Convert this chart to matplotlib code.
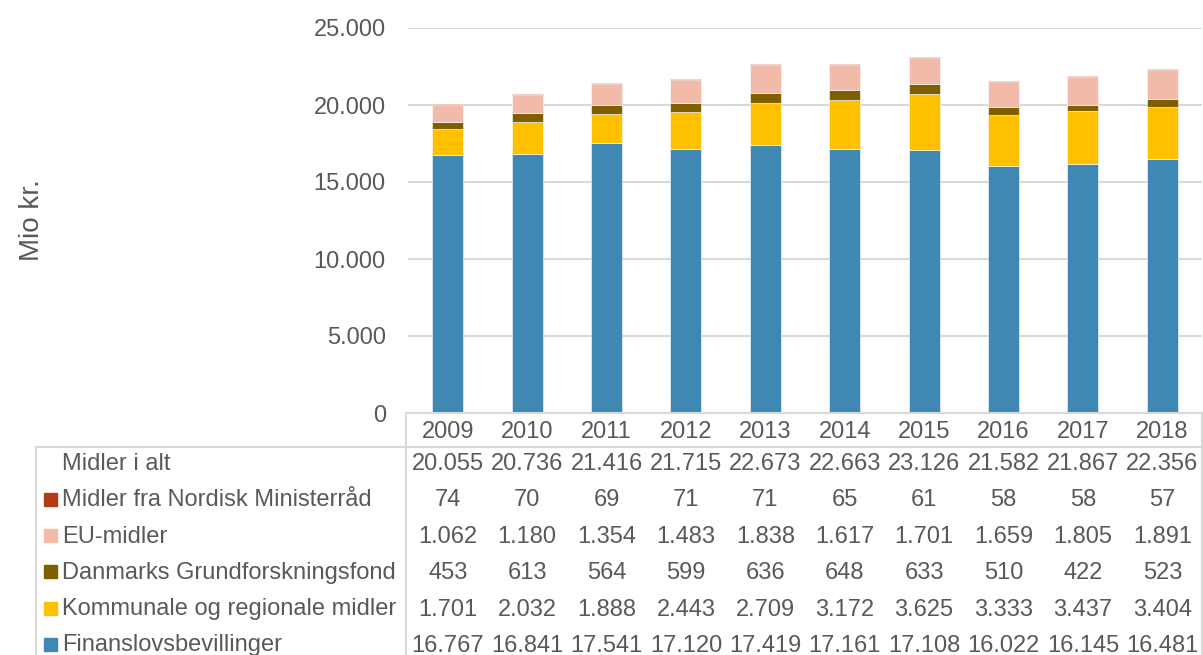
import matplotlib
matplotlib.use("Agg")
import matplotlib.pyplot as plt
from matplotlib.lines import Line2D
from matplotlib.patches import Rectangle
from matplotlib.ticker import FuncFormatter
from matplotlib.transforms import blended_transform_factory

plt.rcParams['font.family'] = ['Liberation Sans', 'DejaVu Sans']

years = ["2009", "2010", "2011", "2012", "2013", "2014", "2015", "2016", "2017", "2018"]
finanslov = [16767, 16841, 17541, 17120, 17419, 17161, 17108, 16022, 16145, 16481]
kommunale = [1701, 2032, 1888, 2443, 2709, 3172, 3625, 3333, 3437, 3404]
grundforskning = [453, 613, 564, 599, 636, 648, 633, 510, 422, 523]
eu_midler = [1062, 1180, 1354, 1483, 1838, 1617, 1701, 1659, 1805, 1891]
nordisk = [74, 70, 69, 71, 71, 65, 61, 58, 58, 57]
i_alt = [20055, 20736, 21416, 21715, 22673, 22663, 23126, 21582, 21867, 22356]

series = [
    ("Finanslovsbevillinger", finanslov, "#3F88B4"),
    ("Kommunale og regionale midler", kommunale, "#FFC000"),
    ("Danmarks Grundforskningsfond", grundforskning, "#7F6000"),
    ("EU-midler", eu_midler, "#F2BAA8"),
    ("Midler fra Nordisk Ministerråd", nordisk, "#B33A17"),
]

TXT = "#595959"
GRID = "#D9D9D9"
W, H = 1203, 655
FS = 17


def fmt(v):
    return f"{v:,}".replace(",", ".")


fig = plt.figure(figsize=(W / 100, H / 100), dpi=100)
ax = fig.add_axes([408 / W, 1 - 413 / H, (1202 - 408) / W, (413 - 28) / H])

x = list(range(len(years)))
bottom = [0] * len(years)
for name, vals, color in series:
    ax.bar(x, vals, width=0.39, bottom=bottom, color=color, edgecolor="white", linewidth=0.4, zorder=3)
    bottom = [b + v for b, v in zip(bottom, vals)]

ax.set_xlim(-0.5, len(years) - 0.5)
ax.set_ylim(0, 25000)
ax.set_yticks(range(0, 25001, 5000))
ax.yaxis.set_major_formatter(FuncFormatter(lambda v, p: fmt(int(v))))
ax.tick_params(axis="y", length=0, pad=16, labelsize=FS, labelcolor=TXT)
ax.set_xticks(x)
ax.set_xticklabels(years)
ax.tick_params(axis="x", length=0, pad=6, labelsize=FS, labelcolor=TXT)
ax.grid(axis="y", color=GRID, linewidth=1.5, zorder=0)
for s in ax.spines.values():
    s.set_visible(False)

fig.text(32 / W, 1 - 220 / H, "Mio kr.", rotation=90, fontsize=20, color=TXT,
         ha="center", va="center")

# table lines (figure pixels)
def hline(x0, x1, y):
    fig.add_artist(Line2D([x0 / W, x1 / W], [1 - y / H, 1 - y / H], color=GRID, linewidth=1.5))


def vline(xp, y0, y1):
    fig.add_artist(Line2D([xp / W, xp / W], [1 - y0 / H, 1 - y1 / H], color=GRID, linewidth=1.5))


hline(406, 1202, 413)
hline(36, 1202, 447)
vline(406, 413, 655)
vline(1202, 413, 655)
vline(36, 447, 655)

rows = [("Midler i alt", i_alt, None)] + [(n, v, c) for n, v, c in reversed(series)]
row_y = [464.5, 500.5, 537, 573, 609.5, 645.5]
tr = blended_transform_factory(ax.transData, fig.transFigure)
for (name, vals, color), yp in zip(rows, row_y):
    yf = 1 - yp / H
    if color is not None:
        fig.add_artist(Rectangle((44 / W, yf - 5 / H), 13 / W, 13 / H, color=color,
                                 transform=fig.transFigure))
    fig.text(62 / W, yf, name, fontsize=FS, color=TXT, ha="left", va="center")
    for xi, v in zip(x, vals):
        ax.text(xi, yf, fmt(v), transform=tr, fontsize=FS, color=TXT, ha="center",
                va="center", clip_on=False)

fig.savefig("out.png", dpi=100)
